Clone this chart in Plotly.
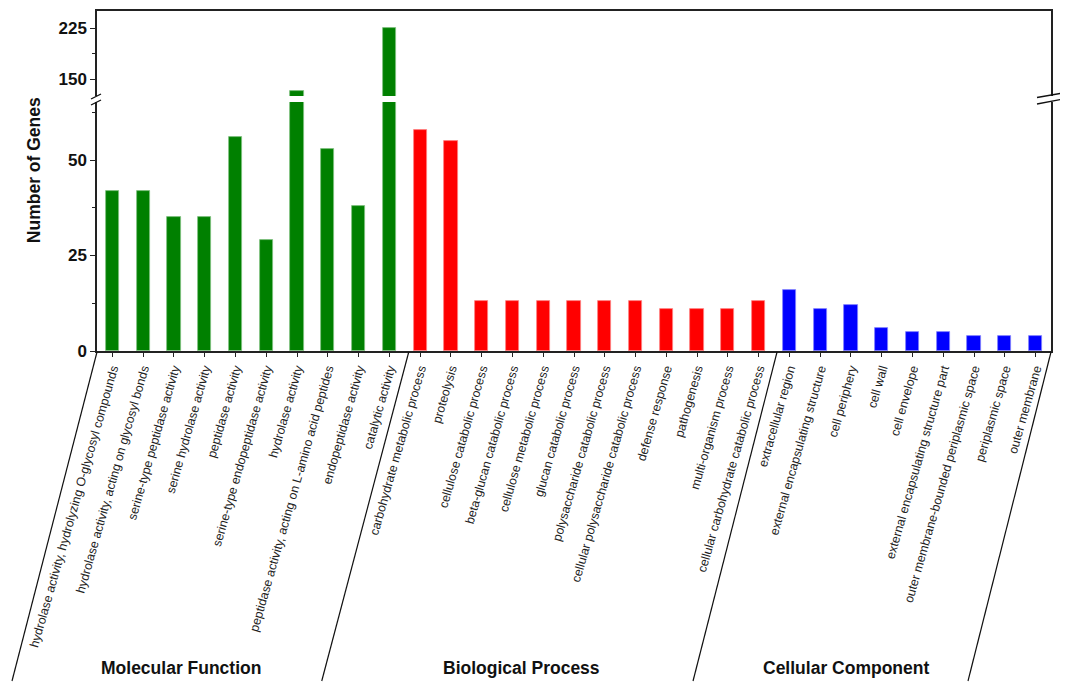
import plotly.graph_objects as go

# ---------------- data ----------------
mf_terms = [
    "hydrolase activity, hydrolyzing O-glycosyl compounds",
    "hydrolase activity, acting on glycosyl bonds",
    "serine-type peptidase activity",
    "serine hydrolase activity",
    "peptidase activity",
    "serine-type endopeptidase activity",
    "hydrolase activity",
    "peptidase activity, acting on L-amino acid peptides",
    "endopeptidase activity",
    "catalytic activity",
]
mf_counts = [42, 42, 35, 35, 56, 29, 132, 53, 38, 225]

bp_terms = [
    "carbohydrate metabolic process",
    "proteolysis",
    "cellulose catabolic process",
    "beta-glucan catabolic process",
    "cellulose metabolic process",
    "glucan catabolic process",
    "polysaccharide catabolic process",
    "cellular polysaccharide catabolic process",
    "defense response",
    "pathogenesis",
    "multi-organism process",
    "cellular carbohydrate catabolic process",
]
bp_counts = [58, 55, 13, 13, 13, 13, 13, 13, 11, 11, 11, 13]

cc_terms = [
    "extracellular region",
    "external encapsulating structure",
    "cell periphery",
    "cell wall",
    "cell envelope",
    "external encapsulating structure part",
    "outer membrane-bounded periplasmic space",
    "periplasmic space",
    "outer membrane",
]
cc_counts = [16, 11, 12, 6, 5, 5, 4, 4, 4]

group_names = ["Molecular Function", "Biological Process", "Cellular Component"]
group_colors = ["#008000", "#FF0000", "#0000FF"]
group_edges = ["#7fc07f", "#ff8080", "#8080ff"]

lower_ticks = [0, 25, 50]
lower_minor = [12.5, 37.5, 62.5]
upper_ticks = [150, 225]
upper_minor = [187.5]

# ---------------- figure ----------------
groups = [(mf_terms, mf_counts), (bp_terms, bp_counts), (cc_terms, cc_counts)]
all_terms = mf_terms + bp_terms + cc_terms
n = len(all_terms)

fig = go.Figure()
start = 0
for gi, (terms, counts) in enumerate(groups):
    xs = list(range(start, start + len(terms)))
    for xa, ya in (("x", "y"), ("x2", "y2")):
        fig.add_trace(go.Bar(
            x=xs, y=counts, width=0.43,
            marker=dict(color=group_colors[gi],
                        line=dict(color=group_edges[gi], width=0.8)),
            xaxis=xa, yaxis=ya, showlegend=False, name=group_names[gi],
        ))
    start += len(terms)

axis_col = "#222222"
font_fam = "Liberation Sans, Arial, sans-serif"
tick_font = dict(size=17, color="#111", family=font_fam, weight="bold")

# page body has an 8px margin: size the figure to fill the rest of the window
fig.update_layout(
    width=1060, height=674,
    margin=dict(l=89, r=17, t=3, b=331, autoexpand=False),
    paper_bgcolor="white", plot_bgcolor="white",
    font=dict(family=font_fam, color="#111"),
    bargap=0,
    xaxis=dict(
        domain=[0, 1], anchor="y", range=[-0.5, n - 0.5],
        tickvals=list(range(n)), ticktext=all_terms, tickangle=-74,
        tickfont=dict(size=12.4, color="#222"),
        ticks="outside", ticklen=4, tickwidth=1, tickcolor=axis_col,
        showline=True, linecolor=axis_col, linewidth=1.5,
        showgrid=False, zeroline=False, automargin=False,
    ),
    xaxis2=dict(
        domain=[0, 1], anchor="y2", matches="x", side="top",
        showticklabels=False, ticks="", showline=True,
        linecolor=axis_col, linewidth=1.5, showgrid=False, zeroline=False,
    ),
    yaxis=dict(
        domain=[0, 249 / 340], anchor="x", range=[0, 65.2],
        tickvals=lower_ticks, ticks="outside", ticklen=5, tickwidth=1.2,
        tickcolor=axis_col,
        minor=dict(tickvals=lower_minor, ticks="outside", ticklen=3,
                   tickcolor=axis_col, tickwidth=1),
        tickfont=tick_font,
        showline=True, mirror=True, linecolor=axis_col, linewidth=1.5,
        showgrid=False, zeroline=False,
    ),
    yaxis2=dict(
        domain=[255 / 340, 1], anchor="x2", range=[125, 250],
        tickvals=upper_ticks, ticks="outside", ticklen=5, tickwidth=1.2,
        tickcolor=axis_col,
        minor=dict(tickvals=upper_minor, ticks="outside", ticklen=3,
                   tickcolor=axis_col, tickwidth=1),
        tickfont=tick_font,
        showline=True, mirror=True, linecolor=axis_col, linewidth=1.5,
        showgrid=False, zeroline=False,
    ),
)

shapes = []
# slanted separators under the category axis (paper x so they are not clipped)
sep_positions = [(-0.5, 0, -85), (9.5, 4, -87), (21.5, 3, -84), (n - 0.5, 0, -83)]
for xpos, off, dx in sep_positions:
    shapes.append(dict(
        type="line", xref="paper", yref="paper",
        xsizemode="pixel", ysizemode="pixel",
        xanchor=(xpos + 0.5) / n, yanchor=0,
        x0=off, x1=off + dx, y0=-1, y1=-330,
        line=dict(color="#111", width=1.2),
    ))
# break marks on left axis
ybreak = 249 / 340
for y0, y1 in ((3, 8), (-3, 2)):
    shapes.append(dict(
        type="line", xref="paper", yref="paper",
        xsizemode="pixel", ysizemode="pixel", xanchor=0, yanchor=ybreak,
        x0=-6, x1=4, y0=y0, y1=y1, line=dict(color="#111", width=1.3),
    ))
# break marks on right axis
for y0, y1 in ((4.5, 9), (-2, 3)):
    shapes.append(dict(
        type="line", xref="paper", yref="paper",
        xsizemode="pixel", ysizemode="pixel", xanchor=1, yanchor=ybreak,
        x0=-14, x1=12, y0=y0, y1=y1, line=dict(color="#111", width=1.3),
    ))
fig.update_layout(shapes=shapes)

annotations = []
group_label_x = [2.23, 13.28, 23.84]
for name, gx in zip(group_names, group_label_x):
    annotations.append(dict(
        text="<b>" + name + "</b>", x=gx, y=-0.932, xref="x", yref="paper",
        showarrow=False, xanchor="center", yanchor="middle",
        font=dict(size=17.5, color="#111"),
    ))
annotations.append(dict(
    text="<b>Number of Genes</b>", x=-0.066, y=0.532, xref="paper", yref="paper",
    showarrow=False, textangle=-90, xanchor="center", yanchor="middle",
    font=dict(size=17.5, color="#111"),
))
fig.update_layout(annotations=annotations)

fig.write_html("out.html")
